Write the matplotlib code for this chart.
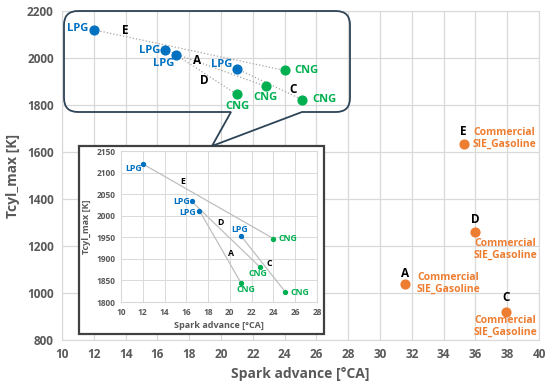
import numpy as np
import matplotlib
matplotlib.use("Agg")
import matplotlib.pyplot as plt
from matplotlib.path import Path
from matplotlib.patches import PathPatch, Rectangle

plt.rcParams['font.family'] = ['Open Sans', 'DejaVu Sans']
plt.rcParams['font.weight'] = 'bold'
plt.rcParams['axes.labelweight'] = 'bold'

# =============================================
# DATA
# =============================================
# LPG / CNG pairs (E, A, D, C)
lpg_x = [12.0, 16.5, 17.2, 21.0]
lpg_y = [2120, 2033, 2012, 1954]
cng_x = [24.0, 22.8, 21.0, 25.1]
cng_y = [1947, 1880, 1845, 1823]

# commercial gasoline points
gas_names = ["A", "C", "D", "E"]
gas_x = [31.6, 37.9, 36.0, 35.3]
gas_y = [1040, 920, 1260, 1635]

BLUE = "#0070C0"
GREEN = "#00B050"
ORANGE = "#ED7D31"
GRAY = "#595959"
GRID = "#D9D9D9"

W, H = 550, 385
fig = plt.figure(figsize=(5.5, 3.85), dpi=100)


def fx(px):
    return px / W


def fy(py):
    return 1 - py / H


# =============================================
# MAIN AXES
# =============================================
ax = fig.add_axes([fx(62), fy(340), fx(539) - fx(62), fy(11) - fy(340)])
ax.set_xlim(10, 40)
ax.set_ylim(800, 2200)
ax.set_xticks(np.arange(10, 41, 2))
ax.set_yticks(np.arange(800, 2201, 200))
ax.grid(True, color=GRID, lw=0.9)
ax.set_axisbelow(True)
for s in ax.spines.values():
    s.set_color(GRID)
ax.tick_params(length=0, labelsize=8.5, labelcolor=GRAY, pad=6)
for lab in ax.get_xticklabels() + ax.get_yticklabels():
    lab.set_fontweight("bold")
ax.set_xlabel("Spark advance [°CA]", fontsize=10, color=GRAY, labelpad=4)
ax.set_ylabel("Tcyl_max [K]", fontsize=10, color=GRAY, labelpad=5)

for i in range(len(lpg_x)):
    ax.plot([lpg_x[i], cng_x[i]], [lpg_y[i], cng_y[i]], ls=":", color="#A6A6A6", lw=0.9, zorder=2)
ax.scatter(lpg_x, lpg_y, s=40, color=BLUE, zorder=3)
ax.scatter(cng_x, cng_y, s=40, color=GREEN, zorder=3)
ax.scatter(gas_x, gas_y, s=40, color=ORANGE, zorder=3)

PT = 0.72  # points per pixel
lpg_off = [(-5, 1, "right"), (-5, 0, "right"), (-2, -8, "right"), (-5, 4, "right")]
for i, (dx, dy, ha) in enumerate(lpg_off):
    ax.annotate("LPG", (lpg_x[i], lpg_y[i]), xytext=(dx * PT, dy * PT), textcoords="offset points",
                ha=ha, va="center", fontsize=8, fontweight="bold", color=BLUE)
cng_off = [(10, 0, "left"), (0, -11, "center"), (1, -12, "center"), (10, 0, "left")]
for i, (dx, dy, ha) in enumerate(cng_off):
    ax.annotate("CNG", (cng_x[i], cng_y[i]), xytext=(dx * PT, dy * PT), textcoords="offset points",
                ha=ha, va="center", fontsize=8, fontweight="bold", color=GREEN)

# letter labels on the dotted lines
ax.text(13.96, 2115, "E", fontsize=8.5, ha="center", va="center", color="black")
ax.text(18.49, 1991, "A", fontsize=8.5, ha="center", va="center", color="black")
ax.text(18.93, 1906, "D", fontsize=8.5, ha="center", va="center", color="black")
ax.text(24.53, 1868, "C", fontsize=8.5, ha="center", va="center", color="black")

letter_off = {"A": (0, 10), "C": (0, 14), "D": (0, 12), "E": (-1, 12)}
text_off = {"A": (43, 0), "C": (0, -15), "D": (30, -17), "E": (40, 5)}
for n, x, y in zip(gas_names, gas_x, gas_y):
    ax.annotate(n, (x, y), xytext=(letter_off[n][0] * PT, letter_off[n][1] * PT),
                textcoords="offset points", ha="center", va="center", fontsize=8.5, color="black")
    ax.annotate("Commercial\nSIE_Gasoline", (x, y),
                xytext=(text_off[n][0] * PT, text_off[n][1] * PT), textcoords="offset points",
                ha="center", va="center", fontsize=7.5, color=ORANGE, linespacing=1.1)

# =============================================
# CALLOUT
# =============================================
x0, x1, y0, y1, r = 64, 350, 11, 112, 14
pts = [(x0 + r, y0), (x1 - r, y0), (x1, y0), (x1, y0 + r), (x1, y1 - r), (x1, y1), (x1 - r, y1),
       (302, y1), (212, 146), (231, y1), (x0 + r, y1), (x0, y1), (x0, y1 - r), (x0, y0 + r),
       (x0, y0), (x0 + r, y0)]
codes = [Path.MOVETO, Path.LINETO, Path.CURVE3, Path.CURVE3, Path.LINETO, Path.CURVE3, Path.CURVE3,
         Path.LINETO, Path.LINETO, Path.LINETO, Path.LINETO, Path.CURVE3, Path.CURVE3, Path.LINETO,
         Path.CURVE3, Path.CURVE3]
callout = Path([(fx(a), fy(b)) for a, b in pts], codes)
fig.patches.append(PathPatch(callout, transform=fig.transFigure, fill=False,
                             edgecolor="#2E4457", lw=1.3, zorder=3))

# =============================================
# INSET
# =============================================
fig.patches.append(Rectangle((fx(79), fy(334)), fx(324) - fx(79), fy(146) - fy(334),
                             transform=fig.transFigure, facecolor="white",
                             edgecolor="#404040", lw=1.6, zorder=2))

ins = fig.add_axes([fx(121), fy(302), fx(317) - fx(121), fy(151) - fy(302)], zorder=5)
ins.set_xlim(10, 28)
ins.set_ylim(1800, 2150)
ins.set_xticks(np.arange(10, 29, 2))
ins.set_yticks(np.arange(1800, 2151, 50))
ins.grid(True, color=GRID, lw=0.7)
ins.set_axisbelow(True)
for s in ins.spines.values():
    s.set_color(GRID)
ins.tick_params(length=0, labelsize=6, labelcolor=GRAY, pad=4)
for lab in ins.get_xticklabels() + ins.get_yticklabels():
    lab.set_fontweight("bold")
ins.set_xlabel("Spark advance [°CA]", fontsize=6.5, color=GRAY, labelpad=3)
ins.set_ylabel("Tcyl_max [K]", fontsize=6.5, color=GRAY, labelpad=4)

for i in range(len(lpg_x)):
    ins.plot([lpg_x[i], cng_x[i]], [lpg_y[i], cng_y[i]], color="#BFBFBF", lw=0.9, zorder=2)
ins.scatter(lpg_x, lpg_y, s=8, color=BLUE, zorder=3)
ins.scatter(cng_x, cng_y, s=8, color=GREEN, zorder=3)

lpg_off_i = [(-1, -5, "right"), (-2, 0, "right"), (-3, -1.5, "right"), (-1, 6, "center")]
for i, (dx, dy, ha) in enumerate(lpg_off_i):
    ins.annotate("LPG", (lpg_x[i], lpg_y[i]), xytext=(dx * PT, dy * PT), textcoords="offset points",
                 ha=ha, va="center", fontsize=6.3, color=BLUE)
cng_off_i = [(5, 0, "left"), (-2, -6, "center"), (5, -7, "center"), (5, 0, "left")]
for i, (dx, dy, ha) in enumerate(cng_off_i):
    ins.annotate("CNG", (cng_x[i], cng_y[i]), xytext=(dx * PT, dy * PT), textcoords="offset points",
                 ha=ha, va="center", fontsize=6.3, color=GREEN)

ins.text(15.63, 2079, "E", fontsize=6.3, ha="center", va="center", color="black")
ins.text(19.17, 1985, "D", fontsize=6.3, ha="center", va="center", color="black")
ins.text(20.1, 1912, "A", fontsize=6.3, ha="center", va="center", color="black")
ins.text(23.6, 1889, "C", fontsize=6.3, ha="center", va="center", color="black")

fig.savefig("out.png", dpi=100)
